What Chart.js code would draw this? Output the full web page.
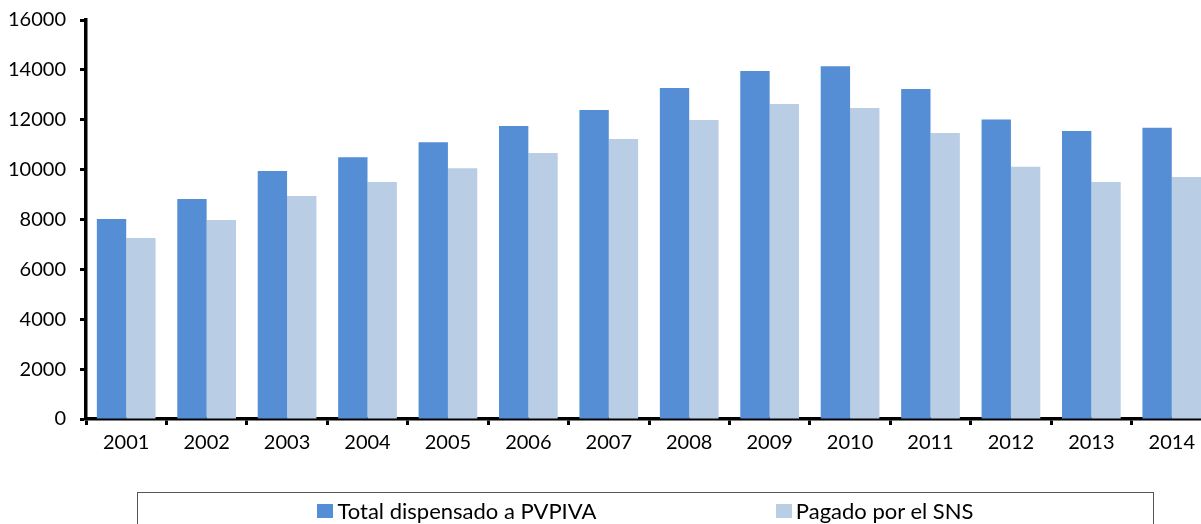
<!DOCTYPE html>
<html>
<head>
<meta charset="utf-8">
<script src="https://cdn.jsdelivr.net/npm/chart.js@4"></script>
<style>
  html, body { margin: 0; padding: 0; overflow: hidden; background: #fff; }
  #wrap { position: absolute; left: 0; top: -6px; width: 1212px; height: 530px; }
  #leyenda {
    position: absolute; left: 137px; top: 492px; width: 1017px; height: 60px;
    border: 1px solid #555; box-sizing: border-box;
    display: flex; justify-content: space-evenly; align-items: flex-start;
    padding-top: 4px;
    font-family: Lato, "Open Sans", sans-serif; font-size: 22px; color: #000;
  }
  #leyenda .item { display: flex; align-items: center; white-space: nowrap; }
  #leyenda .caja { width: 16px; height: 14px; margin-right: 4px; display: inline-block; }
</style>
</head>
<body>
<div id="wrap"><canvas id="grafico"></canvas></div>
<div id="leyenda"></div>
<script>
// datos
const anios = ['2001', '2002', '2003', '2004', '2005', '2006', '2007', '2008', '2009', '2010', '2011', '2012', '2013', '2014'];
const totalDispensado = [8020, 8820, 9940, 10500, 11100, 11750, 12390, 13270, 13950, 14150, 13230, 12010, 11550, 11680];
const pagadoSNS = [7260, 7980, 8940, 9500, 10060, 10670, 11230, 11990, 12630, 12470, 11470, 10120, 9500, 9700];
const ticksY = [0, 2000, 4000, 6000, 8000, 10000, 12000, 14000, 16000];

const series = [
    { label: 'Total dispensado a PVPIVA', data: totalDispensado, color: '#558ED5' },
    { label: 'Pagado por el SNS', data: pagadoSNS, color: '#B9CDE5' }
];

const fuente = { family: 'Lato, "Open Sans", sans-serif', size: 20 };

const ctx = document.getElementById('grafico').getContext('2d');
new Chart(ctx, {
    type: 'bar',
    data: {
        labels: anios,
        datasets: series.map(s => ({
            label: s.label,
            data: s.data,
            backgroundColor: s.color,
            borderWidth: 0,
            categoryPercentage: 0.73,
            barPercentage: 1.0
        }))
    },
    options: {
        responsive: true,
        maintainAspectRatio: false,
        animation: false,
        layout: { padding: { top: 9, left: 0, right: 0, bottom: 0 } },
        plugins: {
            legend: { display: false },
            tooltip: { enabled: false }
        },
        scales: {
            x: {
                border: { display: true, color: '#000', width: 3.5 },
                grid: { drawOnChartArea: false, drawTicks: true, tickLength: 6, tickWidth: 3, tickColor: '#000', offset: true },
                ticks: { color: '#000', font: fuente, padding: 6, maxRotation: 0 },
                afterFit: scale => { scale.height = 105; }
            },
            y: {
                min: 0,
                max: 16000,
                border: { display: true, color: '#000', width: 3.5 },
                grid: { drawOnChartArea: false, drawTicks: true, tickLength: 6, tickWidth: 3, tickColor: '#000' },
                afterBuildTicks: scale => { scale.ticks = ticksY.map(v => ({ value: v })); },
                ticks: { color: '#000', font: fuente, padding: 14, callback: v => String(v) },
                afterFit: scale => { scale.width = 86; }
            }
        }
    }
});

// leyenda en HTML con recuadro
const leyenda = document.getElementById('leyenda');
series.forEach(s => {
    const item = document.createElement('span');
    item.className = 'item';
    item.innerHTML = `<span class="caja" style="background:${s.color}"></span>${s.label}`;
    leyenda.appendChild(item);
});
</script>
</body>
</html>
